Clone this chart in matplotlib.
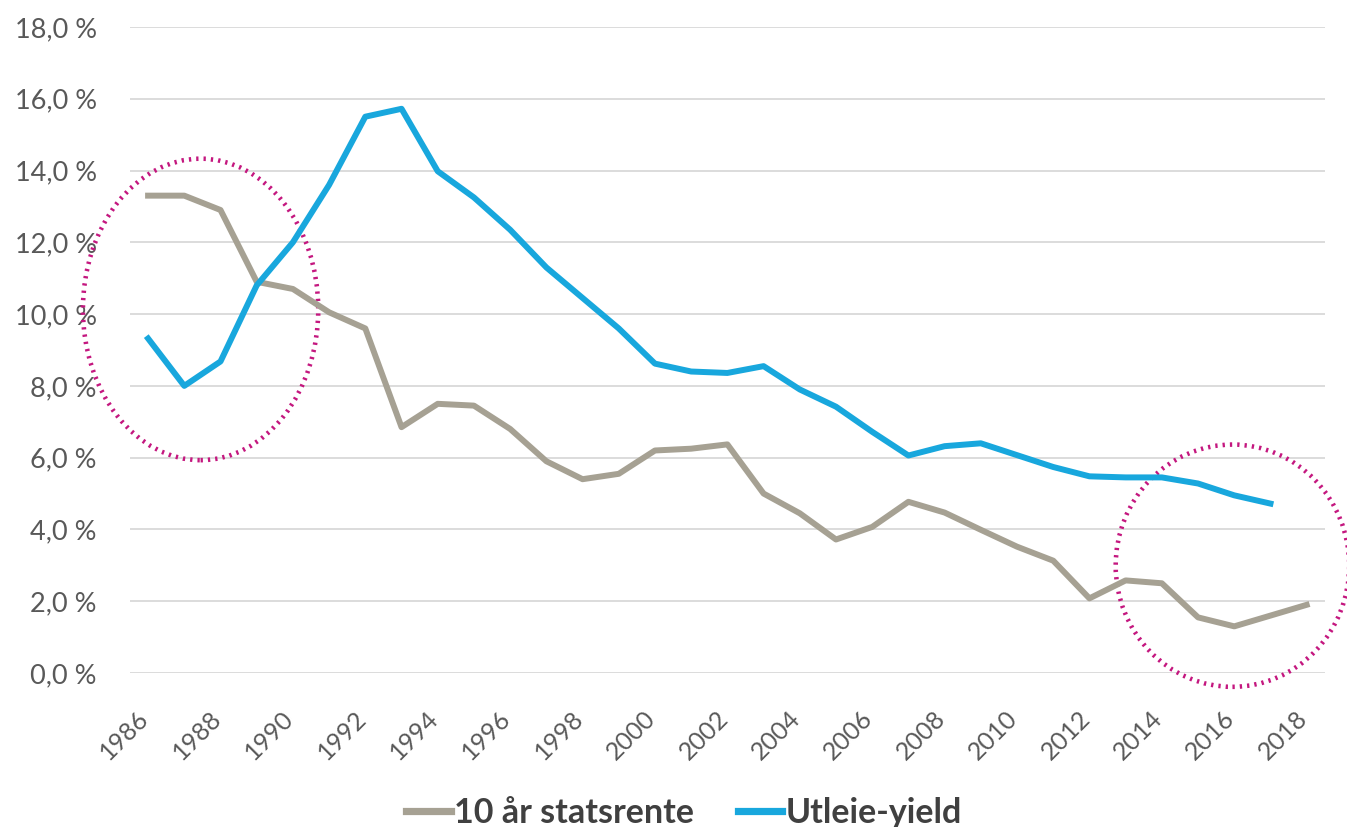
import numpy as np
import matplotlib.pyplot as plt
import matplotlib.transforms as mtransforms
from matplotlib.patches import Ellipse
from matplotlib.ticker import FuncFormatter

years = list(range(1986, 2019))
statsrente = [13.3, 13.3, 12.9, 10.9, 10.7, 10.05, 9.6, 6.85, 7.5, 7.45, 6.8,
              5.9, 5.4, 5.55, 6.2, 6.25, 6.37, 5.0, 4.45, 3.72, 4.07, 4.77,
              4.47, 3.99, 3.52, 3.13, 2.08, 2.58, 2.5, 1.55, 1.3, 1.6, 1.9]
yield_years = list(range(1986, 2018))
utleie_yield = [9.32, 8.0, 8.68, 10.8, 12.0, 13.6, 15.5, 15.72, 13.98, 13.25,
                12.35, 11.3, 10.45, 9.6, 8.62, 8.4, 8.36, 8.55, 7.9, 7.42,
                6.72, 6.06, 6.32, 6.4, 6.07, 5.74, 5.48, 5.45, 5.45, 5.28,
                4.95, 4.72]

grey = '#a6a193'
blue = '#18a7dd'
pink = '#c4177f'
txt = '#595959'

plt.rcParams['font.family'] = ['Lato', 'DejaVu Sans']

fig = plt.figure(figsize=(13.47, 8.27), dpi=100)
ax = fig.add_axes([0.0965, 0.1862, 0.887, 0.7812])

ax.plot(years, statsrente, color=grey, lw=4.3, label='10 år statsrente', solid_joinstyle='round')
ax.plot(yield_years, utleie_yield, color=blue, lw=4.3, label='Utleie-yield', solid_joinstyle='round')

# dotted circles
for cx, cy, w, h in [(1987.45, 10.13, 6.5, 8.4), (2015.95, 2.99, 6.45, 6.75)]:
    e = Ellipse((cx, cy), w, h, fill=False, edgecolor=pink, lw=3.3, linestyle=(0, (0.5, 1.1)), clip_on=False)
    ax.add_patch(e)

ax.set_xlim(1985.5, 2018.5)
ax.set_ylim(0, 18)
ax.set_yticks(np.arange(0, 19, 2))
ax.yaxis.set_major_formatter(FuncFormatter(lambda v, p: f'{v:.1f} %'.replace('.', ',')))
ax.set_xticks(years[::2])
ax.grid(axis='y', color='#d9d9d9', lw=1.3)
ax.set_axisbelow(True)
for s in ax.spines.values():
    s.set_visible(False)
ax.tick_params(axis='both', length=0, colors=txt)
ax.tick_params(axis='y', pad=24, labelsize=19.5)
ax.tick_params(axis='x', pad=24, labelsize=18)

offset = mtransforms.ScaledTranslation(0.05, 0, fig.dpi_scale_trans)
for lab in ax.get_xticklabels():
    lab.set_rotation(45)
    lab.set_ha('right')
    lab.set_transform(lab.get_transform() + offset)

leg = fig.legend(loc='center', bbox_to_anchor=(0.508, 0.017), ncol=2, frameon=False,
                 handlelength=1.3, handletextpad=0.1, columnspacing=1.3,
                 prop={'size': 24.5, 'weight': 'bold'})
for t in leg.get_texts():
    t.set_color('#404040')
for h in leg.get_lines():
    h.set_linewidth(5.2)

fig.savefig('out.png', dpi=100)
